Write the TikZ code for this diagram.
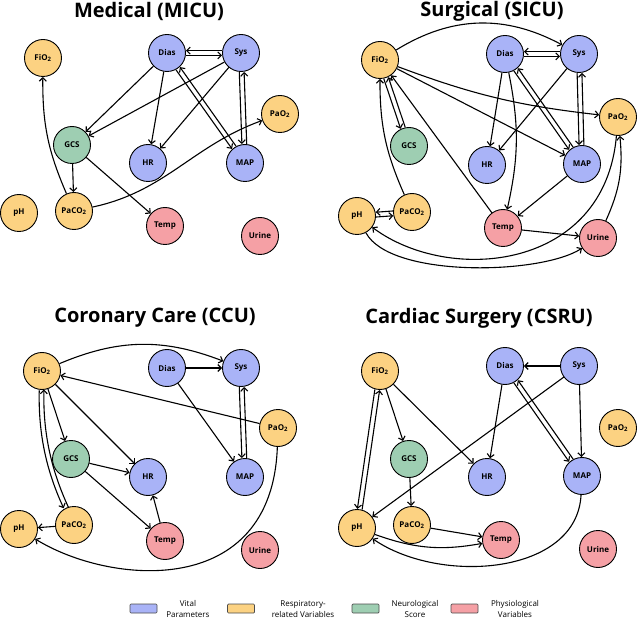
\documentclass[tikz,border=0pt]{standalone}
\usepackage{fontspec}
\setmainfont{Open Sans}
\usetikzlibrary{arrows.meta,calc}
\definecolor{vit}{HTML}{A9B3F7}
\definecolor{res}{HTML}{FCD282}
\definecolor{neu}{HTML}{9ECEB2}
\definecolor{phy}{HTML}{F5A0A5}
\tikzset{
  nd/.style={circle,draw=black,line width=0.9pt,minimum size=37pt,inner sep=0pt,font=\bfseries\fontsize{8}{9}\selectfont},
  vital/.style={nd,fill=vit},
  resp/.style={nd,fill=res},
  neuro/.style={nd,fill=neu},
  phys/.style={nd,fill=phy},
  arr/.style={line width=1.1pt,-{Straight Barb[length=3.5pt,width=7pt]}},
  ttl/.style={font=\bfseries\fontsize{20}{24}\selectfont},
  legbox/.style={draw=black!70,line width=0.7pt,rounded corners=1pt,minimum width=27pt,minimum height=9pt,inner sep=0pt},
  legtxt/.style={align=center,font=\fontsize{8}{10.5}\selectfont},
}
\newcommand\dpair[2]{%
  \draw[arr,shorten <=19pt,shorten >=19pt] ($(#1)!2.4pt!-90:(#2)$) -- ($(#2)!2.4pt!90:(#1)$);
  \draw[arr,shorten <=19pt,shorten >=19pt] ($(#2)!2.4pt!-90:(#1)$) -- ($(#1)!2.4pt!90:(#2)$);}
\newcommand\dpairb[3]{%
  \draw[arr,shorten <=19pt,shorten >=19pt] ($(#1)!2.4pt!-90:(#2)$) to[bend right=#3] ($(#2)!2.4pt!90:(#1)$);
  \draw[arr,shorten <=19pt,shorten >=19pt] ($(#2)!2.4pt!-90:(#1)$) to[bend left=#3] ($(#1)!2.4pt!90:(#2)$);}
\begin{document}
\begin{tikzpicture}[x=1pt,y=1pt]
\useasboundingbox (0,0) rectangle (640,-620);
% ---------- titles
\node[ttl] (t1) at (149,-11) {Medical (MICU)};
\node[ttl] (t2) at (492,-11) {Surgical (SICU)};
\node[ttl] (t3) at (155,-318) {Coronary Care (CCU)};
\node[ttl] (t4) at (479,-318) {Cardiac Surgery (CSRU)};
% ---------- MICU
\node[resp]  (m-fio)   at (43,-58)   {FiO\textsubscript{2}};
\node[vital] (m-dias)  at (167,-53)  {Dias};
\node[vital] (m-sys)   at (241,-53)  {Sys};
\node[resp]  (m-pao)   at (280,-114) {PaO\textsubscript{2}};
\node[neuro] (m-gcs)   at (72,-145)  {GCS};
\node[vital] (m-hr)    at (148,-163) {HR};
\node[vital] (m-map)   at (245,-163) {MAP};
\node[resp]  (m-ph)    at (19,-213)  {pH};
\node[resp]  (m-paco)  at (74,-211)  {PaCO\textsubscript{2}};
\node[phys]  (m-temp)  at (165,-226) {Temp};
\node[phys]  (m-urine) at (260,-236) {Urine};
\dpair{m-dias}{m-sys}
\draw[arr] (m-dias) -- (m-gcs);
\draw[arr] (m-sys) -- (m-gcs);
\draw[arr] (m-dias) -- (m-hr);
\draw[arr] (m-sys) -- (m-hr);
\dpair{m-dias}{m-map}
\dpair{m-sys}{m-map}
\draw[arr] (m-gcs) -- (m-paco);
\draw[arr] (m-gcs) -- (m-temp);
\draw[arr] (m-paco) to[bend left=12] (m-fio);
\draw[arr] (m-paco) to[out=12,in=200] (m-pao);
% ---------- SICU
\node[resp]  (s-fio)   at (380,-60)  {FiO\textsubscript{2}};
\node[vital] (s-dias)  at (505,-54)  {Dias};
\node[vital] (s-sys)   at (579,-54)  {Sys};
\node[resp]  (s-pao)   at (618,-117) {PaO\textsubscript{2}};
\node[neuro] (s-gcs)   at (409,-146) {GCS};
\node[vital] (s-hr)    at (487,-165) {HR};
\node[vital] (s-map)   at (582,-164) {MAP};
\node[resp]  (s-ph)    at (357,-216) {pH};
\node[resp]  (s-paco)  at (412,-212) {PaCO\textsubscript{2}};
\node[phys]  (s-temp)  at (503,-228) {Temp};
\node[phys]  (s-urine) at (598,-238) {Urine};
\draw[arr] (s-fio) to[bend left=30] (s-sys);
\dpair{s-dias}{s-sys}
\draw[arr] (s-fio) to[bend right=7] (s-pao);
\draw[arr] (s-fio) -- (s-map);
\dpair{s-fio}{s-gcs}
\draw[arr] (s-temp) -- (s-fio);
\draw[arr] (s-paco) to[bend left=12] (s-fio);
\dpair{s-ph}{s-paco}
\draw[arr] (s-dias) -- (s-hr);
\draw[arr] (s-sys) -- (s-hr);
\draw[arr] (s-dias) to[bend left=12] (s-temp);
\dpair{s-dias}{s-map}
\dpair{s-sys}{s-map}
\draw[arr] (s-map) -- (s-temp);
\draw[arr] (s-temp) -- (s-urine);
\draw[arr] (s-urine) to[bend right=15] (s-pao);
\draw[arr] (s-pao) .. controls (605,-270) and (450,-285) .. (s-ph);
\draw[arr] (s-ph) .. controls (390,-278) and (540,-275) .. (s-urine);
% ---------- CCU
\node[resp]  (c-fio)   at (42,-371)  {FiO\textsubscript{2}};
\node[vital] (c-dias)  at (167,-368) {Dias};
\node[vital] (c-sys)   at (241,-368) {Sys};
\node[resp]  (c-pao)   at (278,-428) {PaO\textsubscript{2}};
\node[neuro] (c-gcs)   at (71,-459)  {GCS};
\node[vital] (c-hr)    at (148,-477) {HR};
\node[vital] (c-map)   at (245,-477) {MAP};
\node[resp]  (c-ph)    at (19,-529)  {pH};
\node[resp]  (c-paco)  at (74,-525)  {PaCO\textsubscript{2}};
\node[phys]  (c-temp)  at (165,-541) {Temp};
\node[phys]  (c-urine) at (260,-550) {Urine};
\draw[arr] (c-fio) to[bend left=22] (c-sys);
\draw[arr] (c-dias) -- (c-sys);
\draw[arr] (c-pao) -- (c-fio);
\draw[arr] (c-fio) -- (c-gcs);
\draw[arr] (c-fio) -- (c-hr);
\dpairb{c-fio}{c-paco}{13}
\draw[arr] (c-gcs) -- (c-hr);
\draw[arr] (c-gcs) -- (c-temp);
\draw[arr] (c-temp) -- (c-hr);
\draw[arr] (c-paco) -- (c-ph);
\draw[arr] (c-dias) -- (c-map);
\dpair{c-sys}{c-map}
\draw[arr] (c-pao) .. controls (272,-600) and (110,-585) .. (c-ph);
% ---------- CSRU
\node[resp]  (k-fio)   at (380,-371) {FiO\textsubscript{2}};
\node[vital] (k-dias)  at (505,-366) {Dias};
\node[vital] (k-sys)   at (579,-366) {Sys};
\node[resp]  (k-pao)   at (618,-428) {PaO\textsubscript{2}};
\node[neuro] (k-gcs)   at (409,-459) {GCS};
\node[vital] (k-hr)    at (487,-477) {HR};
\node[vital] (k-map)   at (582,-476) {MAP};
\node[resp]  (k-ph)    at (357,-528) {pH};
\node[resp]  (k-paco)  at (412,-525) {PaCO\textsubscript{2}};
\node[phys]  (k-temp)  at (501,-540) {Temp};
\node[phys]  (k-urine) at (598,-549) {Urine};
\draw[arr] (k-sys) -- (k-dias);
\draw[arr] (k-dias) -- (k-hr);
\draw[arr] (k-sys) -- (k-ph);
\draw[arr] (k-sys) -- (k-map);
\dpair{k-dias}{k-map}
\draw[arr] (k-fio) -- (k-gcs);
\draw[arr] (k-fio) -- (k-hr);
\dpair{k-fio}{k-ph}
\draw[arr] (k-gcs) -- (k-paco);
\draw[arr] (k-paco) -- (k-temp);
\draw[arr] (k-ph) to[bend right=15] (k-temp);
\draw[arr] (k-map) .. controls (577,-575) and (440,-585) .. (k-ph);
% ---------- legend
\node[legbox,fill=vit] (lb1) at (143.5,-608.5) {};
\node[legtxt] (lt1) at (188,-609) {Vital\\Parameters};
\node[legbox,fill=res] (lb2) at (241,-608.5) {};
\node[legtxt] (lt2) at (303,-609) {Respiratory-\\related Variables};
\node[legbox,fill=neu] (lb3) at (365.5,-608.5) {};
\node[legtxt] (lt3) at (415,-609) {Neurological\\Score};
\node[legbox,fill=phy] (lb4) at (464.5,-608.5) {};
\node[legtxt] (lt4) at (515,-609) {Physiological\\Variables};
\end{tikzpicture}
\end{document}
